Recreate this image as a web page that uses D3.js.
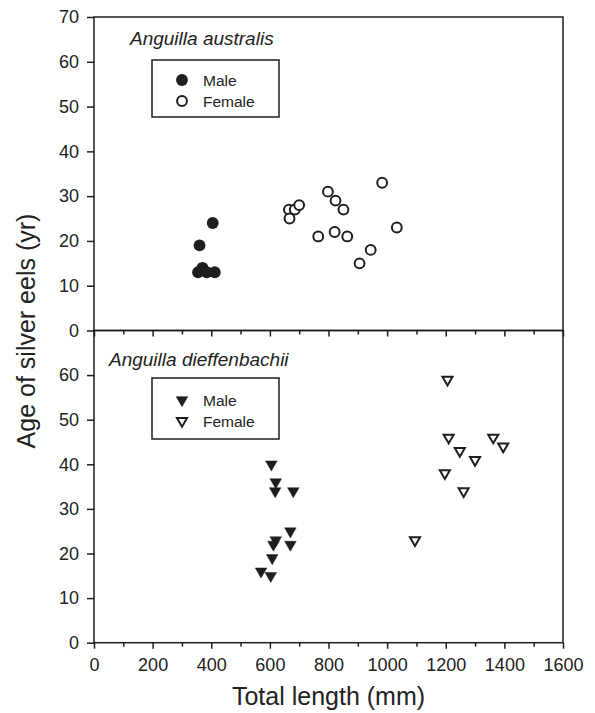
<!DOCTYPE html>
<html><head><meta charset="utf-8">
<script src="https://cdn.jsdelivr.net/npm/d3@7"></script>
<style>body{margin:0;background:#fff}svg{display:block}text{font-family:"Liberation Sans",Arial,sans-serif;fill:#222}</style>
</head><body>
<script>
const xTicks = [0,200,400,600,800,1000,1200,1400,1600];
const yTicks = [0,10,20,30,40,50,60,70];
const australisMaleX = [355,370,385,412,360,405];
const australisMaleY = [13,14,13,13,19,24];
const australisFemaleX = [665,685,700,667,798,824,851,765,821,864,983,1033,944,906];
const australisFemaleY = [27,27,28,25,31,29,27,21,22,21,33,23,18,15];
const dieffMaleX = [605,620,618,680,670,620,612,670,608,570,603];
const dieffMaleY = [40,36,34,34,25,23,22,22,19,16,15];
const dieffFemaleX = [1095,1197,1206,1210,1248,1261,1300,1362,1396];
const dieffFemaleY = [23,38,59,46,43,34,41,46,44];

const W=595,H=713, L=94, R=563;
const svg=d3.select("body").append("svg").attr("width",W).attr("height",H);
const x=d3.scaleLinear().domain([0,1600]).range([L,R]);
const panels=[
 {top:17,bot:330.5,title:"Anguilla australis",tx:130,ty:45,
  legend:{x:152,y:60,w:127,h:57,y1:80,y2:101},
  sym:"circle",m:[australisMaleX,australisMaleY],f:[australisFemaleX,australisFemaleY]},
 {top:330.5,bot:642.7,title:"Anguilla dieffenbachii",tx:109,ty:366,
  legend:{x:152,y:378,w:127,h:61,y1:400,y2:421},
  sym:"tri",m:[dieffMaleX,dieffMaleY],f:[dieffFemaleX,dieffFemaleY]}
];
const stroke="#1e1e1e";
function marker(sel,kind,filled){
  if(kind==="circle"){
    sel.append("path").attr("d",d3.symbol(d3.symbolCircle, filled?110:76)())
      .attr("fill",filled?stroke:"#fff").attr("stroke",stroke).attr("stroke-width",filled?0:2);
  } else {
    sel.append("path").attr("d",d3.symbol(d3.symbolTriangle, filled?58:44)())
      .attr("transform","rotate(180)")
      .attr("fill",filled?stroke:"#fff").attr("stroke",stroke).attr("stroke-width",filled?0.5:2)
      .attr("stroke-linejoin","miter");
  }
}
const tickFont="18px";
panels.forEach((p,i)=>{
  const y=d3.scaleLinear().domain([0,70]).range([p.bot,p.top]);
  const g=svg.append("g");
  g.append("rect").attr("x",L).attr("y",p.top).attr("width",R-L).attr("height",p.bot-p.top)
    .attr("fill","none").attr("stroke",stroke).attr("stroke-width",1.5);
  const ya=g.append("g").attr("transform",`translate(${L},0)`)
    .call(d3.axisLeft(y).tickValues(i===1?yTicks.slice(0,7):yTicks).tickSize(7).tickPadding(8).tickFormat(d3.format("d")));
  ya.select(".domain").remove();
  ya.selectAll("line").attr("stroke",stroke).attr("stroke-width",1.5);
  ya.selectAll("text").style("font-size",tickFont).style("font-family","Liberation Sans, Arial, sans-serif").attr("fill","#222");
  const xa=g.append("g").attr("transform",`translate(0,${p.bot})`)
    .call(d3.axisBottom(x).tickValues(xTicks).tickSize(6).tickPadding(10).tickFormat(i===1?d3.format("d"):""));
  xa.select(".domain").remove();
  xa.selectAll("line").attr("stroke",stroke).attr("stroke-width",1.5);
  xa.selectAll("text").style("font-size",tickFont).style("font-family","Liberation Sans, Arial, sans-serif").attr("fill","#222");
  const xm=g.append("g").attr("transform",`translate(0,${p.bot})`)
    .call(d3.axisBottom(x).tickValues(d3.range(100,1600,200)).tickSize(4).tickFormat(""));
  xm.select(".domain").remove();
  xm.selectAll("line").attr("stroke",stroke).attr("stroke-width",1.5);
  g.append("text").attr("x",p.tx).attr("y",p.ty).attr("font-size",19).attr("font-style","italic").text(p.title);
  const lg=p.legend;
  g.append("rect").attr("x",lg.x).attr("y",lg.y).attr("width",lg.w).attr("height",lg.h)
    .attr("fill","#fff").attr("stroke",stroke).attr("stroke-width",1.5);
  marker(g.append("g").attr("transform",`translate(182,${lg.y1})`),p.sym,true);
  marker(g.append("g").attr("transform",`translate(182,${lg.y2})`),p.sym,false);
  g.append("text").attr("x",203).attr("y",lg.y1+5.5).attr("font-size",15.5).text("Male");
  g.append("text").attr("x",203).attr("y",lg.y2+5.5).attr("font-size",15.5).text("Female");
  const mData=p.m[0].map((v,k)=>[v,p.m[1][k]]);
  const fData=p.f[0].map((v,k)=>[v,p.f[1][k]]);
  fData.forEach(d=>marker(g.append("g").attr("transform",`translate(${x(d[0])},${y(d[1])})`),p.sym,false));
  mData.forEach(d=>marker(g.append("g").attr("transform",`translate(${x(d[0])},${y(d[1])})`),p.sym,true));
});
svg.append("text").attr("x",(L+R)/2).attr("y",705).attr("text-anchor","middle").attr("font-size",25).text("Total length (mm)");
svg.append("text").attr("transform","translate(35,331) rotate(-90)").attr("text-anchor","middle").attr("font-size",25).text("Age of silver eels (yr)");
</script>
</body></html>
